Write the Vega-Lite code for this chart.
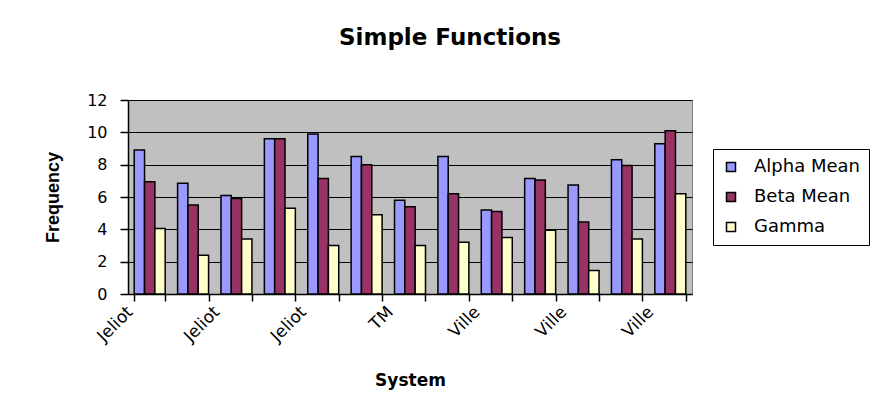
{
  "$schema": "https://vega.github.io/schema/vega-lite/v6.json",
  "width": 564,
  "height": 194,
  "autosize": "none",
  "padding": {"left": 128, "top": 100, "right": 185, "bottom": 120},
  "background": "white",
  "title": {
    "text": "Simple Functions",
    "font": "DejaVu Sans",
    "fontSize": 23,
    "fontWeight": "bold",
    "color": "black",
    "anchor": "middle",
    "dx": 40,
    "baseline": "alphabetic",
    "offset": 24
  },
  "data": {
    "values": [
      {"pos": 1, "system": "Jeliot", "series": "Alpha Mean", "value": 8.9},
      {"pos": 1, "system": "Jeliot", "series": "Beta Mean", "value": 6.95},
      {"pos": 1, "system": "Jeliot", "series": "Gamma", "value": 4.05},
      {"pos": 2, "system": "Jeliot", "series": "Alpha Mean", "value": 6.85},
      {"pos": 2, "system": "Jeliot", "series": "Beta Mean", "value": 5.5},
      {"pos": 2, "system": "Jeliot", "series": "Gamma", "value": 2.4},
      {"pos": 3, "system": "Jeliot", "series": "Alpha Mean", "value": 6.1},
      {"pos": 3, "system": "Jeliot", "series": "Beta Mean", "value": 5.9},
      {"pos": 3, "system": "Jeliot", "series": "Gamma", "value": 3.4},
      {"pos": 4, "system": "Jeliot", "series": "Alpha Mean", "value": 9.6},
      {"pos": 4, "system": "Jeliot", "series": "Beta Mean", "value": 9.6},
      {"pos": 4, "system": "Jeliot", "series": "Gamma", "value": 5.3},
      {"pos": 5, "system": "Jeliot", "series": "Alpha Mean", "value": 9.9},
      {"pos": 5, "system": "Jeliot", "series": "Beta Mean", "value": 7.15},
      {"pos": 5, "system": "Jeliot", "series": "Gamma", "value": 3.0},
      {"pos": 6, "system": "Jeliot", "series": "Alpha Mean", "value": 8.5},
      {"pos": 6, "system": "Jeliot", "series": "Beta Mean", "value": 8.0},
      {"pos": 6, "system": "Jeliot", "series": "Gamma", "value": 4.9},
      {"pos": 7, "system": "TM", "series": "Alpha Mean", "value": 5.8},
      {"pos": 7, "system": "TM", "series": "Beta Mean", "value": 5.4},
      {"pos": 7, "system": "TM", "series": "Gamma", "value": 3.0},
      {"pos": 8, "system": "TM", "series": "Alpha Mean", "value": 8.5},
      {"pos": 8, "system": "TM", "series": "Beta Mean", "value": 6.2},
      {"pos": 8, "system": "TM", "series": "Gamma", "value": 3.2},
      {"pos": 9, "system": "Ville", "series": "Alpha Mean", "value": 5.2},
      {"pos": 9, "system": "Ville", "series": "Beta Mean", "value": 5.1},
      {"pos": 9, "system": "Ville", "series": "Gamma", "value": 3.5},
      {"pos": 10, "system": "Ville", "series": "Alpha Mean", "value": 7.15},
      {"pos": 10, "system": "Ville", "series": "Beta Mean", "value": 7.05},
      {"pos": 10, "system": "Ville", "series": "Gamma", "value": 3.95},
      {"pos": 11, "system": "Ville", "series": "Alpha Mean", "value": 6.75},
      {"pos": 11, "system": "Ville", "series": "Beta Mean", "value": 4.45},
      {"pos": 11, "system": "Ville", "series": "Gamma", "value": 1.45},
      {"pos": 12, "system": "Ville", "series": "Alpha Mean", "value": 8.3},
      {"pos": 12, "system": "Ville", "series": "Beta Mean", "value": 7.95},
      {"pos": 12, "system": "Ville", "series": "Gamma", "value": 3.4},
      {"pos": 13, "system": "Ville", "series": "Alpha Mean", "value": 9.3},
      {"pos": 13, "system": "Ville", "series": "Beta Mean", "value": 10.1},
      {"pos": 13, "system": "Ville", "series": "Gamma", "value": 6.2}
    ]
  },
  "mark": {"type": "bar", "stroke": "black", "strokeWidth": 1.5},
  "encoding": {
    "x": {
      "field": "pos",
      "type": "ordinal",
      "scale": {"paddingInner": 0.286, "paddingOuter": 0.143},
      "axis": {
        "title": "System",
        "titleFont": "DejaVu Sans",
        "titleFontSize": 17,
        "titleFontWeight": "bold",
        "titleColor": "black",
        "titleY": 91,
        "titleBaseline": "alphabetic",
        "labelExpr": "['Jeliot','','Jeliot','','Jeliot','','TM','','Ville','','Ville','','Ville'][datum.value-1]",
        "labelAngle": -45,
        "labelAlign": "right",
        "labelBaseline": "middle",
        "labelFont": "DejaVu Sans",
        "labelFontSize": 17,
        "labelColor": "black",
        "labelPadding": 8,
        "labelOffset": -20,
        "tickBand": "extent",
        "tickSize": 7,
        "tickColor": "black",
        "domainColor": "black",
        "labelOverlap": false,
        "grid": false
      }
    },
    "xOffset": {
      "field": "series",
      "type": "nominal",
      "sort": ["Alpha Mean", "Beta Mean", "Gamma"],
      "scale": {"paddingInner": 0, "paddingOuter": 0}
    },
    "y": {
      "field": "value",
      "type": "quantitative",
      "scale": {"domain": [0, 12], "nice": false},
      "axis": {
        "title": "Frequency",
        "titleFont": "Liberation Sans",
        "titleFontSize": 18,
        "titleFontWeight": "bold",
        "titleColor": "black",
        "titleAngle": -90,
        "titleX": -75,
        "titleY": 97,
        "titleAlign": "center",
        "titleBaseline": "middle",
        "values": [0, 2, 4, 6, 8, 10, 12],
        "labelFont": "DejaVu Sans",
        "labelFontSize": 16,
        "labelColor": "black",
        "labelPadding": 13,
        "tickSize": 8,
        "tickColor": "black",
        "domainColor": "black",
        "grid": true,
        "gridColor": "black",
        "gridOpacity": 1,
        "gridWidth": 1
      }
    },
    "color": {
      "field": "series",
      "type": "nominal",
      "sort": ["Alpha Mean", "Beta Mean", "Gamma"],
      "scale": {
        "domain": ["Alpha Mean", "Beta Mean", "Gamma"],
        "range": ["#9999FF", "#993366", "#FFFFCC"]
      },
      "legend": {
        "title": null,
        "orient": "none",
        "legendX": 585,
        "legendY": 49,
        "symbolType": "square",
        "symbolSize": 81,
        "symbolStrokeColor": "black",
        "symbolStrokeWidth": 1.5,
        "symbolOpacity": 1,
        "labelFont": "DejaVu Sans",
        "labelFontSize": 18,
        "labelColor": "black",
        "labelOffset": 14,
        "rowPadding": 12,
        "padding": 9,
        "strokeColor": "black",
        "fillColor": "white"
      }
    }
  },
  "config": {
    "view": {"fill": "#C0C0C0", "stroke": "#808080", "strokeWidth": 1},
    "axis": {"domainWidth": 1.5, "tickWidth": 1.5}
  }
}
